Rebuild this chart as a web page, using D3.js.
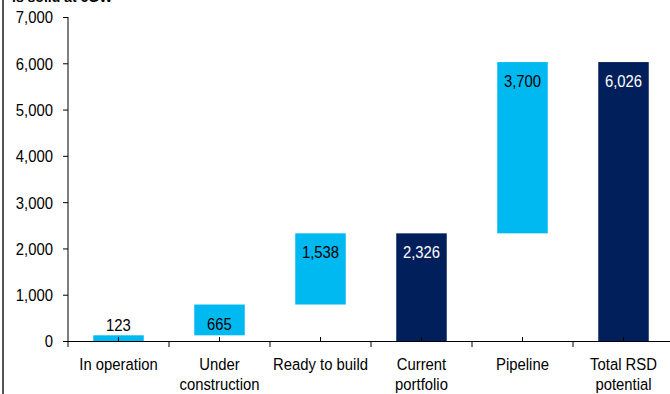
<!DOCTYPE html>
<html><head><meta charset="utf-8">
<script src="https://cdn.jsdelivr.net/npm/d3@7"></script>
<style>body{margin:0;background:#fff;}svg{display:block;font-family:"Liberation Sans",Arial,sans-serif;}</style>
</head><body>
<svg id="c" width="670" height="394"></svg>
<script>
const categories = [["In operation"],["Under","construction"],["Ready to build"],["Current","portfolio"],["Pipeline"],["Total RSD","potential"]];
const values = [123, 665, 1538, 2326, 3700, 6026];
const barType = ["step","step","step","total","step","total"];
const yTicks = [0,1000,2000,3000,4000,5000,6000,7000];
const titleText = "is solid at 6GW";

const colStep = "#00B9F1", colTotal = "#001F5B";
const FS = 16.5, SX = 0.9;
const svg = d3.select("#c");
const x = d3.scaleBand().domain(d3.range(categories.length)).range([68, 674]).paddingInner(0).paddingOuter(0);
const y = d3.scaleLinear().domain([0, 7000]).range([341, 17]);

let run = 0;
const bars = values.map((v,i) => {
  let b0, b1;
  if (barType[i] === "total") { b0 = 0; b1 = v; run = v; }
  else { b0 = run; b1 = run + v; run = b1; }
  return {i, v, b0, b1, type: barType[i]};
});

svg.append("line").attr("x1",3).attr("x2",3).attr("y1",0).attr("y2",394).attr("stroke","#555").attr("stroke-width",2);
svg.append("text").attr("x",12).attr("y",2).attr("font-weight","bold").attr("font-size",14).text(titleText);

const bw = x.bandwidth()*0.5;
svg.selectAll("rect.bar").data(bars).enter().append("rect")
  .attr("x", d => x(d.i) + x.bandwidth()/2 - bw/2)
  .attr("width", bw)
  .attr("y", d => y(d.b1))
  .attr("height", d => y(d.b0) - y(d.b1))
  .attr("fill", d => d.type === "total" ? colTotal : colStep);

// y axis
const yAxis = d3.axisLeft(y).tickValues(yTicks).tickSize(5).tickPadding(0).tickFormat(d3.format(","));
const ga = svg.append("g").attr("transform","translate(68,0)").call(yAxis);
ga.select(".domain").attr("stroke","#000").attr("d","M0,17V341");
ga.selectAll("line").attr("stroke","#000");
ga.selectAll("text").attr("font-size",FS).attr("fill","#000").attr("font-family","'Liberation Sans',Arial,sans-serif")
  .attr("x",0).attr("dy","0.36em").attr("transform","translate(-15,0) scale(" + SX + ",1)");

// x axis
svg.append("line").attr("x1",63).attr("x2",670).attr("y1",341.5).attr("y2",341.5).attr("stroke","#000");
const bounds = d3.range(categories.length+1).map(i => 68 + i*x.bandwidth());
svg.selectAll("line.bt").data(bounds).enter().append("line")
  .attr("x1", d=>d).attr("x2", d=>d).attr("y1",341).attr("y2",347).attr("stroke","#000");
svg.selectAll("line.ct").data(d3.range(categories.length)).enter().append("line")
  .attr("x1", d=>x(d)+x.bandwidth()/2).attr("x2", d=>x(d)+x.bandwidth()/2).attr("y1",337).attr("y2",342).attr("stroke","#000");

// category labels
const cl = svg.selectAll("text.cat").data(categories).enter().append("text")
  .attr("text-anchor","middle").attr("font-size",FS).attr("fill","#000")
  .attr("transform",(d,i)=>"translate(" + (x(i)+x.bandwidth()/2) + ",370) scale(" + SX + ",1)");
cl.selectAll("tspan").data(d=>d).enter().append("tspan")
  .attr("x", 0).attr("dy",(d,j)=> j===0?0:20).text(d=>d);

// value labels
svg.selectAll("text.val").data(bars).enter().append("text")
  .attr("text-anchor","middle").attr("font-size",FS)
  .attr("transform", d => "translate(" + (x(d.i) + x.bandwidth()/2) + "," +
      ((y(d.b0)-y(d.b1)) < 30 ? y(d.b1) - 4 : y(d.b1) + 25) + ") scale(" + SX + ",1)")
  .attr("fill", d => d.type === "total" ? "#fff" : "#000")
  .text(d => d3.format(",")(d.v));
</script>
</body></html>
